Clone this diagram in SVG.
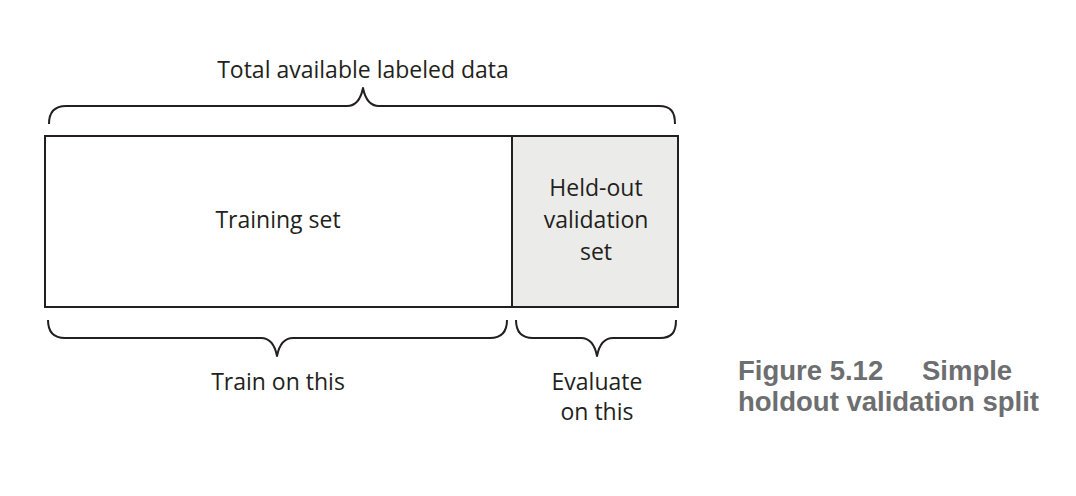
<svg xmlns="http://www.w3.org/2000/svg" width="1076" height="496" viewBox="0 0 1076 496">
<style>
.lbl{font-family:"Open Sans","Liberation Sans",sans-serif;font-size:23px;fill:#231f20;text-anchor:middle}
.box{stroke:#231f20;stroke-width:2}
.brace{fill:none;stroke:#231f20;stroke-width:2;stroke-linejoin:round}
.cap{font-family:"Liberation Sans",Arial,sans-serif;font-weight:bold;font-size:27.5px;fill:#6d6e70}
</style>
<rect width="1076" height="496" fill="#ffffff"/>
<g id="training-set">
<rect class="box" x="45" y="136" width="467" height="171" fill="#ffffff"/>
<text class="lbl" x="278" y="228">Training set</text>
</g>
<g id="validation-set">
<rect class="box" x="512" y="136" width="166" height="171" fill="#ebecea"/>
<text class="lbl" x="596" y="196">Held-out</text>
<text class="lbl" x="596" y="228">validation</text>
<text class="lbl" x="596" y="260">set</text>
</g>
<g id="connectors">
<path class="brace" d="M49,124 C49,112 54,106 66,106 L347,106 C356,106 361,98 363,88 C365,98 370,106 379,106 L659,106 C671,106 675,112 675,124"/>
<path class="brace" d="M48,320 C48,332 53,338 65,338 L261,338 C270,338 275,346 277,356 C279,346 284,338 293,338 L490,338 C502,338 507,332 507,320"/>
<path class="brace" d="M516,320 C516,332 521,338 533,338 L581,338 C590,338 595,346 597,356 C599,346 604,338 613,338 L660,338 C672,338 676,332 676,320"/>
</g>
<g id="top-label"><text class="lbl" x="363" y="78">Total available labeled data</text></g>
<g id="train-label"><text class="lbl" x="278" y="390">Train on this</text></g>
<g id="eval-label">
<text class="lbl" x="597" y="390">Evaluate</text>
<text class="lbl" x="597" y="420">on this</text>
</g>
<g id="caption">
<text class="cap" x="738" y="380">Figure 5.12<tspan x="922">Simple</tspan></text>
<text class="cap" x="738" y="411">holdout validation split</text>
</g>
</svg>
